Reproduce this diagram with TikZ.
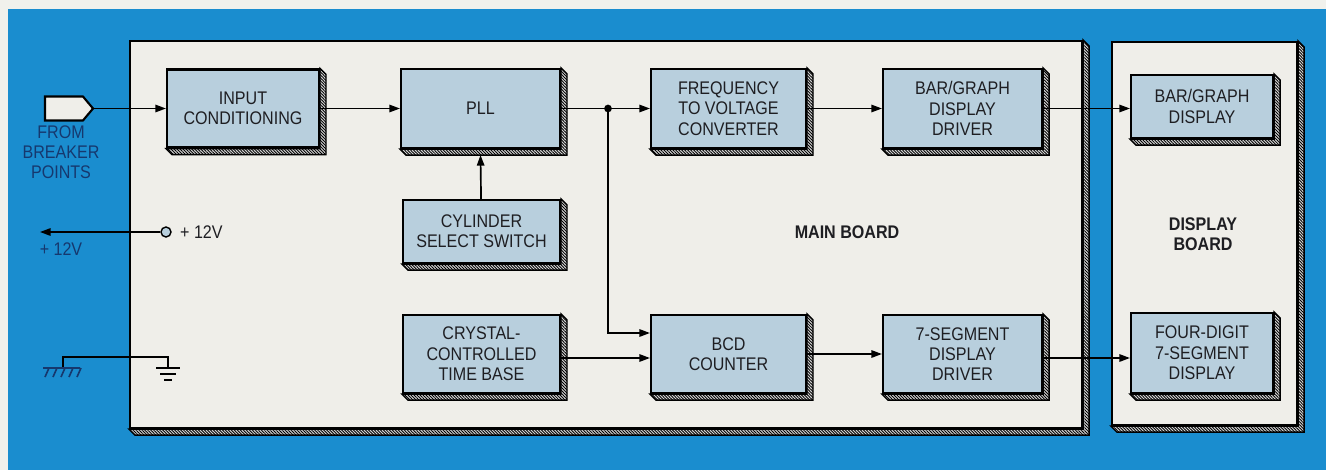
\documentclass[tikz,border=0pt]{standalone}
\usepackage{fontspec}
\setmainfont{Liberation Sans}[FakeStretch=0.88]
\usepackage{tikz}
\usepackage{xcolor}
\definecolor{diagBlue}{HTML}{1A8DCF}
\definecolor{diagPaper}{HTML}{F1F1EC}
\definecolor{diagBoard}{HTML}{EFEEE9}
\definecolor{diagBox}{HTML}{B8CFDD}
\definecolor{diagInk}{HTML}{1E1E22}
\definecolor{diagLabel}{HTML}{16386E}
\usetikzlibrary{arrows.meta,patterns.meta,shapes.symbols}

\begin{document}
\begin{tikzpicture}[x=0.02cm, y=-0.02cm,
  blk/.style={draw, line width=1.2pt, fill=diagBox, text=diagInk, align=center, inner sep=2pt, font=\fontsize{10.4}{11.6}\selectfont},
  board/.style={draw, line width=1.3pt, fill=diagBoard},
  rim/.style={draw, line width=0.8pt, fill=white!85!black, postaction={pattern={Lines[angle=-45,distance=1.2pt,line width=0.5pt]}}},
  lbl/.style={text=diagLabel, align=center, font=\fontsize{10.4}{11.3}\selectfont},
  wire/.style={line width=0.95pt},
  arr/.style={wire, -{Triangle[length=6pt,width=4.2pt]}}]
  % background
  \fill[diagPaper] (0,0) rectangle (1326,470);
  \fill[diagBlue] (8,9) rectangle (1326,470);
  % boards
  \node[board, minimum width=19.04cm, minimum height=7.74cm] (mainb) at (606,234.5) {};
  \node[board, minimum width=3.7cm, minimum height=7.66cm] (dispb) at (1204.5,233.5) {};
  \node[font=\bfseries\fontsize{10.4}{11.6}\selectfont, text=diagInk] (mainlbl) at (847,232) {MAIN BOARD};
  \node[font=\bfseries\fontsize{10.4}{11.6}\selectfont, text=diagInk, align=center] (displbl) at (1203,234) {DISPLAY\\BOARD};
  % blocks
  \node[blk, minimum width=3.04cm, minimum height=1.56cm] (inp) at (243,108.5) {INPUT\\CONDITIONING};
  \node[blk, minimum width=3.18cm, minimum height=1.58cm] (pll) at (480.5,108.5) {PLL};
  \node[blk, minimum width=3.1cm, minimum height=1.58cm] (f2v) at (728.5,108.5) {FREQUENCY\\TO VOLTAGE\\CONVERTER};
  \node[blk, minimum width=3.18cm, minimum height=1.58cm] (bgdrv) at (962.5,108.5) {BAR/GRAPH\\DISPLAY\\DRIVER};
  \node[blk, minimum width=3.14cm, minimum height=1.26cm] (cyl) at (481.5,231.5) {CYLINDER\\SELECT SWITCH};
  \node[blk, minimum width=3.14cm, minimum height=1.56cm] (xtal) at (481.5,354) {CRYSTAL-\\CONTROLLED\\TIME BASE};
  \node[blk, minimum width=3.1cm, minimum height=1.56cm] (bcd) at (728.5,354) {BCD\\COUNTER};
  \node[blk, minimum width=3.18cm, minimum height=1.56cm] (sevdrv) at (962.5,354) {7-SEGMENT\\DISPLAY\\DRIVER};
  \node[blk, minimum width=2.84cm, minimum height=1.26cm] (bgdisp) at (1202,106.5) {BAR/GRAPH\\DISPLAY};
  \node[blk, minimum width=2.84cm, minimum height=1.6cm] (fourd) at (1202,353) {FOUR-DIGIT\\7-SEGMENT\\DISPLAY};
  % bevelled edges
  \foreach \n in {mainb,dispb,inp,pll,f2v,bgdrv,cyl,xtal,bcd,sevdrv,bgdisp,fourd}
    \path[rim] (\n.north east) -- ++(6,6) -- ([shift={(6,6)}]\n.south east)
      -- ([shift={(6,6)}]\n.south west) -- (\n.south west) -- (\n.south east) -- cycle;
  % input plug
  \node[signal, signal to=east, signal pointer angle=100, draw, line width=1.2pt, fill=diagBoard,
    minimum width=0.96cm, minimum height=0.48cm, inner sep=0pt] (brk) at (64,108.5) {};
  \node[lbl] (brktxt) at (61,152) {FROM\\BREAKER\\POINTS};
  % supply
  \node[circle, draw, line width=0.8pt, fill=diagBox, minimum size=0.2cm, inner sep=0pt] (vin) at (166,232) {};
  \node[anchor=west, text=diagInk, font=\fontsize{10.4}{11.6}\selectfont] (vintxt) at (174,232) {+ 12V};
  \coordinate (vout) at (40,232);
  \node[lbl] (vouttxt) at (61,249) {+ 12V};
  % grounds
  \coordinate (chs) at (63,368);
  \coordinate (gnd) at (168,368);
  \draw[wire] (chs) -- ++(0,-11) -| (gnd);
  \draw[wire, diagLabel] (chs) ++(-20,0) -- ++(37,0);
  \foreach \k in {0,...,4}
    \draw[wire, diagLabel] (chs) ++(-14+\k*8,0) -- ++(-4,9);
  \draw[line width=1.2pt] (gnd) ++(-12,0) -- ++(24,0) (gnd) ++(-8,6) -- ++(16,0) (gnd) ++(-4,12) -- ++(8,0);
  % connections
  \coordinate (jn) at (608,108.5);
  \draw[arr] (brk) -- (inp);
  \draw[arr] (vin) -- (vout);
  \draw[arr] (inp) -- (pll);
  \draw[wire] (pll) -- (jn);
  \fill (jn) circle (2.2pt);
  \draw[arr] (jn) -- (f2v);
  \draw[arr] (jn) |- ([yshift=0.42cm]bcd.west);
  \draw[arr] (cyl) -- ([yshift=-0.12cm]pll.south);
  \draw[arr] ([yshift=-0.08cm]xtal.east) -- ([yshift=-0.08cm]xtal.east -| bcd.west);
  \draw[arr] (f2v) -- (bgdrv);
  \draw[arr] (bcd) -- (sevdrv);
  \draw[arr] (bgdrv.east) -- (bgdrv.east -| bgdisp.west);
  \draw[arr] ([yshift=-0.08cm]sevdrv.east) -- ([yshift=-0.08cm]sevdrv.east -| fourd.west);
\end{tikzpicture}
\end{document}
